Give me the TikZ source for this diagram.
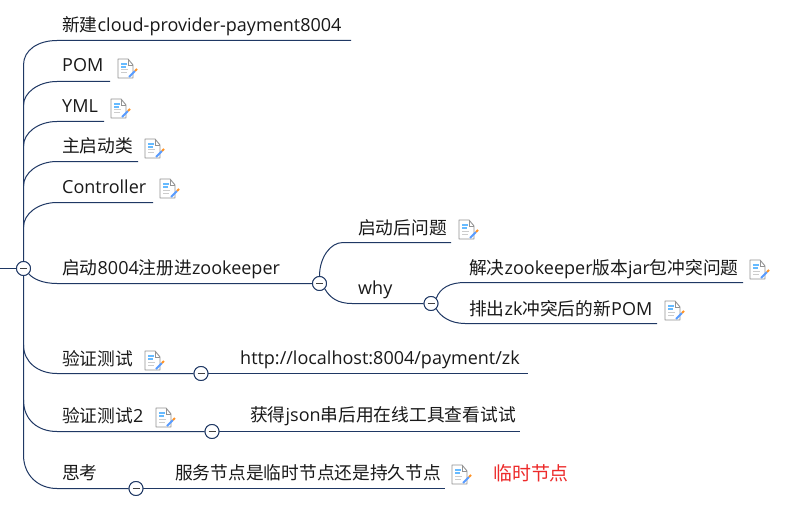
\documentclass[tikz,border=0pt]{standalone}
\usepackage{fontspec}
\setmainfont{Open Sans}
\newfontfamily\cjk[Scale=0.985]{Noto Sans CJK SC}
\newcommand{\zh}[1]{{\cjk #1}}
\definecolor{linec}{HTML}{1F3864}
\definecolor{redc}{HTML}{ED2A2A}
\tikzset{
  x=1pt,y=-1pt,
  lbl/.style={anchor=base west,inner sep=0pt,font=\fontsize{18}{20}\selectfont,text=black!90},
  branch/.style={draw=linec,line width=1pt},
  toggle/.style={circle,draw=linec,fill=white,line width=0.9pt,minimum size=14pt,inner sep=0pt,
    path picture={\draw[line width=1pt,black!75] ([xshift=-3.5pt]path picture bounding box.center)--([xshift=3.5pt]path picture bounding box.center);}},
  pics/docicon/.style={code={
    \fill[white] (1,1)--(12,1)--(17,6)--(17,20)--(1,20)--cycle;
    \draw[gray!85,line width=0.9pt,line join=round] (1,1)--(11,1)--(16,7)--(16,20)--(1,20)--cycle;
    \draw[gray!85,line width=0.7pt] (11,1)--(11,7)--(16,7);
    \draw[blue!45!cyan!60,line width=1.1pt] (4,6)--(10,6) (4,9)--(9,9);
    \draw[gray!40,line width=1pt] (4,12)--(11,12) (4,15)--(10,15);
    \draw[blue!60!cyan!65,line width=2pt] (12,19)--(18,13);
    \draw[orange!85,line width=2pt] (18,13)--(20,11);
  }}
}
\newcommand{\dicon}[2]{\path (#1,#2) pic {docicon};}
\begin{document}
\begin{tikzpicture}
\useasboundingbox (0,0) rectangle (795,508);
\fill[white] (0,0) rectangle (795,508);
% toggles
\node[toggle] (root) at (23.5,268.5) {};
\node[toggle] (t8004) at (319.5,283.5) {};
\node[toggle] (twhy) at (431,303.5) {};
\node[toggle] (tv1) at (201,373.5) {};
\node[toggle] (tv2) at (212,431.5) {};
\node[toggle] (tthink) at (136,488.5) {};
% free ends
\coordinate (rootin) at (0,268.5);
\coordinate (e1) at (351,40.5);
\coordinate (e2) at (110,81.5);
\coordinate (e3) at (104,121.5);
\coordinate (e4) at (138,161.5);
\coordinate (e5) at (153,202.5);
\coordinate (e7) at (451,242.5);
\coordinate (e8) at (743,282.5);
\coordinate (e9) at (657,323.5);
\coordinate (e10) at (528,373.5);
\coordinate (e11) at (520,431.5);
\coordinate (e12) at (445,488.5);
% labels
\node[lbl] (n1) at (62,32) {\zh{新建}cloud-provider-payment8004};
\node[lbl] (n2) at (62,72) {POM};
\node[lbl] (n3) at (62,113) {YML};
\node[lbl] (n4) at (62,153) {\zh{主启动类}};
\node[lbl] (n5) at (62,193) {Controller};
\node[lbl] (n6) at (62,274) {\zh{启动}8004\zh{注册进}zookeeper};
\node[lbl] (n7) at (358,234) {\zh{启动后问题}};
\node[lbl] (n8) at (358,294) {why};
\node[lbl] (n9) at (469,274) {\zh{解决}zookeeper\zh{版本}jar\zh{包冲突问题}};
\node[lbl] (n10) at (469,315) {\zh{排出}zk\zh{冲突后的新}POM};
\node[lbl] (n11) at (62,365) {\zh{验证测试}};
\node[lbl] (n12) at (240,364) {http://localhost:8004/payment/zk};
\node[lbl] (n13) at (62,422) {\zh{验证测试}2};
\node[lbl] (n14) at (250,421) {\zh{获得}json\zh{串后用在线工具查看试试}};
\node[lbl] (n15) at (62,479) {\zh{思考}};
\node[lbl] (n16) at (175,479) {\zh{服务节点是临时节点还是持久节点}};
\node[lbl,text=redc,font=\fontsize{19.2}{21}\selectfont] (n17) at (493,480) {\zh{临时节点}};
% connectors
\draw[branch] (rootin) -- (root);
\draw[branch] (root.north) -- (23.5,65) .. controls (23.5,50) and (38,40.5) .. (57,40.5) -- (e1);
\draw[branch] (23.5,105) .. controls (23.5,93) and (38,81.5) .. (57,81.5) -- (e2);
\draw[branch] (23.5,146) .. controls (23.5,133) and (38,121.5) .. (57,121.5) -- (e3);
\draw[branch] (23.5,186) .. controls (23.5,173) and (38,161.5) .. (57,161.5) -- (e4);
\draw[branch] (23.5,227) .. controls (23.5,214) and (38,202.5) .. (57,202.5) -- (e5);
\draw[branch] (root.south) -- (23.5,455) .. controls (23.5,475) and (38,488.5) .. (57,488.5) -- (tthink);
\draw[branch] (root.south east) .. controls (33,279) and (43,283.5) .. (57,283.5) -- (t8004);
\draw[branch] (23.5,345) .. controls (23.5,362) and (38,373.5) .. (57,373.5) -- (tv1);
\draw[branch] (23.5,400) .. controls (23.5,420) and (38,431.5) .. (57,431.5) -- (tv2);
\draw[branch] (t8004.north) .. controls (319.5,258) and (330,242.5) .. (343,242.5) -- (e7);
\draw[branch] (t8004.south east) .. controls (330,298) and (338,303.5) .. (352,303.5) -- (twhy);
\draw[branch] (twhy.north east) .. controls (440,288) and (450,282.5) .. (465,282.5) -- (e8);
\draw[branch] (twhy.south east) .. controls (440,316) and (450,323.5) .. (465,323.5) -- (e9);
\draw[branch] (tv1) -- (e10);
\draw[branch] (tv2) -- (e11);
\draw[branch] (tthink) -- (e12);
\node[toggle] at (root) {};
\node[toggle] at (t8004) {};
\node[toggle] at (twhy) {};
\node[toggle] at (tv1) {};
\node[toggle] at (tv2) {};
\node[toggle] at (tthink) {};
% icons
\dicon{117}{58}\dicon{110}{98}\dicon{144}{138}\dicon{159}{178}
\dicon{458}{219}\dicon{749}{259}\dicon{664}{300}\dicon{144}{350}\dicon{155}{407}\dicon{451}{464}
\end{tikzpicture}
\end{document}
